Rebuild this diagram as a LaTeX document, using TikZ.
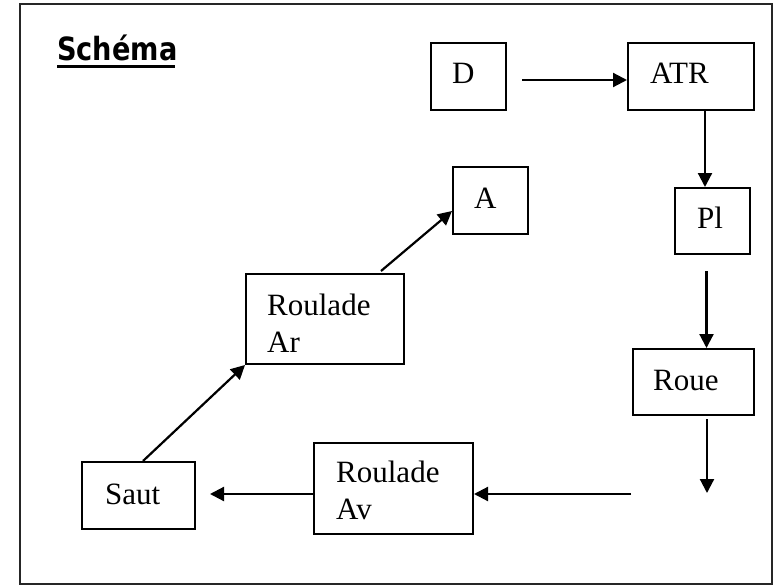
\documentclass[tikz,border=0pt]{standalone}
\usepackage{fontspec}
\setmainfont{Liberation Serif}
\newfontfamily\titlefont[FakeStretch=0.85]{DejaVu Sans}
\usetikzlibrary{arrows.meta}
\tikzset{
  box/.style={draw, line width=2pt, rectangle, inner sep=0pt},
  txt/.style={anchor=base west, inner sep=0pt, font=\fontsize{31}{37}\selectfont},
  arr/.style={line width=2.2pt, -{Triangle[length=14pt,width=14pt]}},
}
\begin{document}
\begin{tikzpicture}[x=1pt,y=-1pt]
\useasboundingbox (0,0) rectangle (776,586);
\draw[line width=2pt, black!85] (20,4) rectangle (772,584);
% title
\node[anchor=base west, inner sep=0pt, font=\titlefont\bfseries\fontsize{32}{32}\selectfont] (title) at (57,61) {Schéma};
\draw[line width=3pt] (57,67) -- (175,67);
% boxes
\node[box, minimum width=75pt, minimum height=67pt] (D) at (468.5,76.5) {};
\node[box, minimum width=126pt, minimum height=67pt] (ATR) at (691,76.5) {};
\node[box, minimum width=75pt, minimum height=67pt] (A) at (490.5,200.5) {};
\node[box, minimum width=75pt, minimum height=66pt] (Pl) at (712.5,221) {};
\node[box, minimum width=158pt, minimum height=90pt] (RAr) at (325,319) {};
\node[box, minimum width=121pt, minimum height=66pt] (Roue) at (693.5,382) {};
\node[box, minimum width=159pt, minimum height=91pt] (RAv) at (393.5,488.5) {};
\node[box, minimum width=113pt, minimum height=67pt] (Saut) at (138.5,495.5) {};
% texts
\node[txt] (Dt) at (452,83) {D};
\node[txt] (ATRt) at (650,83) {ATR};
\node[txt] (At) at (474,208) {A};
\node[txt] (Plt) at (697,228) {Pl};
\node[txt] (RAr1) at (267,315) {Roulade};
\node[txt] (RAr2) at (267,352) {Ar};
\node[txt] (Rouet) at (653,390) {Roue};
\node[txt] (RAv1) at (336,482) {Roulade};
\node[txt] (RAv2) at (336,519) {Av};
\node[txt] (Sautt) at (105,504) {Saut};
% free ends
\coordinate (c1) at (707,493);
\coordinate (c2) at (631,494);
% connectors
\draw[arr] ([shift={(15,3.5)}]D.east) -- ([shift={(0,3.5)}]ATR.west);
\draw[arr] ([shift={(14,0)}]ATR.south) -- ([shift={(14,0)}]ATR.south |- Pl.north);
\draw[arr] ([shift={(-6,16)}]Pl.south) -- ([shift={(-6,0)}]Pl.south |- Roue.north);
\draw[arr] ([shift={(13.5,3)}]Roue.south) -- (c1);
\draw[arr] (c2) -- (c2 -| RAv.east);
\draw[arr, shorten >=14pt] (c2 -| RAv.west) -- (c2 -| Saut.east);
\draw[arr] ([shift={(4.5,0)}]Saut.north) -- (RAr.south west);
\draw[arr] ([shift={(56,-2)}]RAr.north) -- ([shift={(0,10.5)}]A.west);
\end{tikzpicture}
\end{document}
